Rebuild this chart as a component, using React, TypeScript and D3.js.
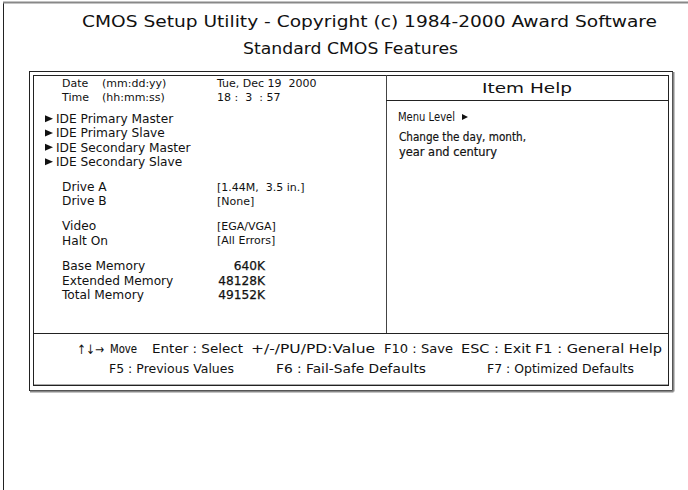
import React from 'react';
import * as d3 from 'd3';

// screen text
const titleLines = ['CMOS Setup Utility - Copyright (c) 1984-2000 Award Software', 'Standard CMOS Features'];

const dateTimeLabels = ['Date', 'Time'];
const dateTimeFormats = ['(mm:dd:yy)', '(hh:mm:ss)'];
const dateTimeValues = ['Tue, Dec 19  2000', '18 :  3  : 57'];
const ideDevices = ['IDE Primary Master', 'IDE Primary Slave', 'IDE Secondary Master', 'IDE Secondary Slave'];
const driveLabels = ['Drive A', 'Drive B'];
const driveValues = ['[1.44M,  3.5 in.]', '[None]'];
const displayLabels = ['Video', 'Halt On'];
const displayValues = ['[EGA/VGA]', '[All Errors]'];
const memoryLabels = ['Base Memory', 'Extended Memory', 'Total Memory'];
const memoryValues = ['640K', '48128K', '49152K'];

const helpTitle = 'Item Help';
const menuLevel = 'Menu Level';
const helpLines = ['Change the day, month,', 'year and century'];

const footerArrows = '↑↓→';
const footerTop = ['Move', 'Enter : Select', '+/-/PU/PD:Value', 'F10 : Save', 'ESC : Exit', 'F1 : General Help'];
const footerBottom = ['F5 : Previous Values', 'F6 : Fail-Safe Defaults', 'F7 : Optimized Defaults'];

// layout
const W = 688;
const H = 490;
const FONT = "'DejaVu Sans', Verdana, sans-serif";
const groupGaps = [0, 0.5, 0.75, 0.75, 0.8];
const footerTopX = [110, 152, 251, 384, 461, 535];
const footerTopW = [27, 91, 124, 69, 70, 127];
const footerBottomX = [109, 276, 487];
const footerBottomW = [125, 150, 147];

type Row = { label: string; format?: string; value?: string; arrow?: boolean; right?: boolean };

export default function App() {
  const groups: Row[][] = [
    dateTimeLabels.map((l, i) => ({ label: l, format: dateTimeFormats[i], value: dateTimeValues[i] })),
    ideDevices.map(l => ({ label: l, arrow: true })),
    driveLabels.map((l, i) => ({ label: l, value: driveValues[i] })),
    displayLabels.map((l, i) => ({ label: l, value: displayValues[i] })),
    memoryLabels.map((l, i) => ({ label: l, value: memoryValues[i], right: true })),
  ];

  // row index -> y
  const y = d3.scaleLinear().domain([0, 1]).range([83, 97.3]);
  const rows: (Row & { slot: number; group: number })[] = [];
  let n = 0;
  let gap = 0;
  groups.forEach((g, gi) => {
    gap += groupGaps[gi];
    g.forEach(r => {
      rows.push({ ...r, slot: n + gap, group: gi });
      n += 1;
    });
  });

  const box = { x0: 29, y0: 71, x1: 672, y1: 390 };
  const inner = { x0: 33, y0: 75, x1: 668, y1: 385 };
  const divX = 386;
  const headY = 100;
  const sepY = 333;

  const txt = { fontFamily: FONT, fill: '#111', whiteSpace: 'pre' as const };

  return (
    <svg width={W} height={H} style={{ position: 'absolute', left: 0, top: 0, background: '#fff' }}>
      {/* page edge */}
      <line x1={3.5} x2={3.5} y1={2} y2={H} stroke="#222" />
      <line x1={3} x2={W} y1={2.5} y2={2.5} stroke="#888" strokeWidth={2} />

      {/* titles */}
      <text x={82} y={27} fontSize={16} textLength={575} lengthAdjust="spacingAndGlyphs" style={txt}>{titleLines[0]}</text>
      <text x={243} y={54} fontSize={15} textLength={215} lengthAdjust="spacingAndGlyphs" style={txt}>{titleLines[1]}</text>

      {/* frames */}
      <rect x={box.x0 + 0.5} y={box.y0 + 0.5} width={box.x1 - box.x0} height={box.y1 - box.y0} fill="none" stroke="#222" />
      <line x1={box.x0 + 1} x2={box.x1 + 1.5} y1={box.y1 + 1.5} y2={box.y1 + 1.5} stroke="#888" strokeWidth={2} />
      <line x1={box.x1 + 1.5} x2={box.x1 + 1.5} y1={box.y0 + 1} y2={box.y1 + 1.5} stroke="#888" strokeWidth={2} />
      <rect x={inner.x0 + 0.5} y={inner.y0 + 0.5} width={inner.x1 - inner.x0} height={inner.y1 - inner.y0} fill="none" stroke="#222" />
      <line x1={inner.x0 + 1} x2={inner.x1} y1={inner.y1 - 0.5} y2={inner.y1 - 0.5} stroke="#aaa" />
      <line x1={divX + 0.5} x2={divX + 0.5} y1={inner.y0} y2={sepY} stroke="#444" />
      <line x1={divX} x2={inner.x1} y1={headY + 0.5} y2={headY + 0.5} stroke="#222" />
      <line x1={inner.x0} x2={inner.x1} y1={sepY + 0.5} y2={sepY + 0.5} stroke="#222" />

      {/* settings */}
      {rows.map((r, i) => {
        const yy = y(r.slot);
        const labelSize = r.group === 0 ? 11 : 12.2;
        return (
          <g key={i}>
            {r.arrow && <path d={`M45,${yy - 3.5}L53,${yy}L45,${yy + 3.5}Z`} fill="#111" />}
            <text x={r.arrow ? 56 : 62} y={yy} dy="0.35em" fontSize={labelSize} style={txt}>{r.label}</text>
            {r.format && <text x={102} y={yy} dy="0.35em" fontSize={11} style={txt}>{r.format}</text>}
            {r.value && (
              <text x={r.right ? 265 : 217} y={yy} dy="0.35em" fontSize={r.right ? 12.2 : 11} textAnchor={r.right ? 'end' : 'start'}
                stroke={r.right ? '#111' : 'none'} strokeWidth={0.25} style={txt}>{r.value}</text>
            )}
          </g>
        );
      })}

      {/* help */}
      <text x={(divX + inner.x1) / 2} y={88} dy="0.35em" fontSize={14} textAnchor="middle" textLength={90}
        lengthAdjust="spacingAndGlyphs" style={txt}>{helpTitle}</text>
      <text x={398} y={117} dy="0.35em" fontSize={12} textLength={57} lengthAdjust="spacingAndGlyphs" style={txt}>{menuLevel}</text>
      <path d="M462,114L468,117L462,120Z" fill="#111" />
      {helpLines.map((l, i) => (
        <text key={l} x={399} y={137 + i * 15} dy="0.35em" fontSize={12} textLength={i === 0 ? 127 : 98}
          lengthAdjust="spacingAndGlyphs" stroke="#111" strokeWidth={0.2} style={txt}>{l}</text>
      ))}

      {/* footer */}
      <text x={77} y={349} dy="0.35em" fontSize={13} textLength={27} lengthAdjust="spacingAndGlyphs" style={txt}>{footerArrows}</text>
      {footerTop.map((l, i) => (
        <text key={l} x={footerTopX[i]} y={349} dy="0.35em" fontSize={11.5} textLength={footerTopW[i]}
          lengthAdjust="spacingAndGlyphs" stroke={i === 0 ? '#111' : 'none'} strokeWidth={0.15} style={txt}>{l}</text>
      ))}
      {footerBottom.map((l, i) => (
        <text key={l} x={footerBottomX[i]} y={369} dy="0.35em" fontSize={11.5} textLength={footerBottomW[i]}
          lengthAdjust="spacingAndGlyphs" style={txt}>{l}</text>
      ))}
    </svg>
  );
}
